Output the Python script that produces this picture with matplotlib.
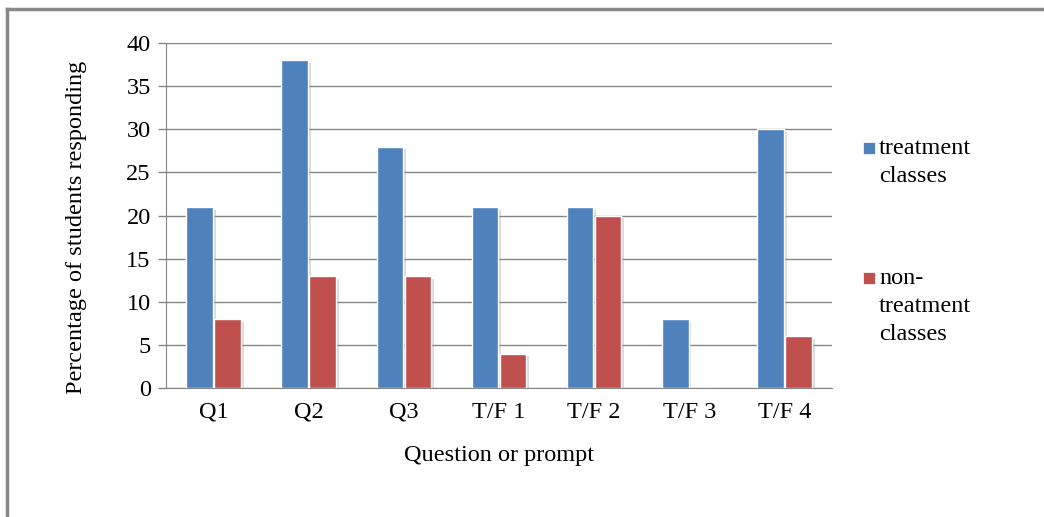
import matplotlib.pyplot as plt
import matplotlib.patheffects as pe
from matplotlib.lines import Line2D
from matplotlib.patches import Rectangle
import numpy as np

categories = ['Q1', 'Q2', 'Q3', 'T/F 1', 'T/F 2', 'T/F 3', 'T/F 4']
treatment = [21, 38, 28, 21, 21, 8, 30]
non_treatment = [8, 13, 13, 4, 20, 0, 6]

blue = '#4F81BD'
red = '#C0504D'
grid_grey = '#868686'
serif = ['Liberation Serif', 'DejaVu Serif']
fs = 17.5

plt.rcParams['font.family'] = serif

fig = plt.figure(figsize=(10.44, 5.17), dpi=100)
ax = fig.add_axes([166 / 1044, 1 - 388 / 517, 666 / 1044, 345 / 517])

x = np.arange(len(categories))
width = 0.28
shadow = [pe.SimplePatchShadow(offset=(2, -2), shadow_rgbFace='#999999', alpha=0.35), pe.Normal()]
b1 = ax.bar(x - 0.147, treatment, width, color=blue, edgecolor='white', linewidth=1, zorder=3)
b2 = ax.bar(x + 0.147, non_treatment, width, color=red, edgecolor='white', linewidth=1, zorder=3)
for bars in (b1, b2):
    for bar in bars:
        if bar.get_height() > 0:
            bar.set_path_effects(shadow)

ax.set_xlim(-0.5, len(categories) - 0.5)
ax.set_ylim(0, 40)
ax.set_yticks(range(0, 41, 5))
ax.set_xticks(x)
ax.set_xticklabels(categories, fontsize=fs)
ax.tick_params(axis='x', length=0, pad=10)
ax.tick_params(axis='y', length=6, width=1, color=grid_grey, labelsize=fs, pad=5)
ax.yaxis.grid(True, color=grid_grey, linewidth=1, zorder=0)
ax.set_axisbelow(True)
for side in ('top', 'right'):
    ax.spines[side].set_visible(False)
for side in ('left', 'bottom'):
    ax.spines[side].set_color(grid_grey)

ax.set_xlabel('Question or prompt', fontsize=fs, labelpad=16)
ax.set_ylabel('Percentage of students responding', fontsize=fs)
ax.yaxis.set_label_coords(-0.118, 0.467)

# legend drawn by hand so each swatch sits on the first line of its label
legend_items = [(blue, ['treatment', 'classes'], 148),
                (red, ['non-', 'treatment', 'classes'], 278)]
for colour, lines, top in legend_items:
    fig.add_artist(Rectangle((863 / 1044, 1 - (top + 6) / 517), 12 / 1044, 12 / 517,
                             facecolor=colour, edgecolor='white', linewidth=0.5,
                             transform=fig.transFigure))
    for i, line in enumerate(lines):
        fig.text(879 / 1044, 1 - (top + i * 28) / 517, line, fontsize=fs,
                 family=serif, va='center', ha='left')

# chart frame: top and left edges only
fig.add_artist(Line2D([7 / 1044, 1], [1 - 9 / 517, 1 - 9 / 517], color='#888888',
                      linewidth=2.5, transform=fig.transFigure))
fig.add_artist(Line2D([7 / 1044, 7 / 1044], [0, 1 - 9 / 517], color='#888888',
                      linewidth=2.5, transform=fig.transFigure))

fig.savefig('out.png', dpi=100)
